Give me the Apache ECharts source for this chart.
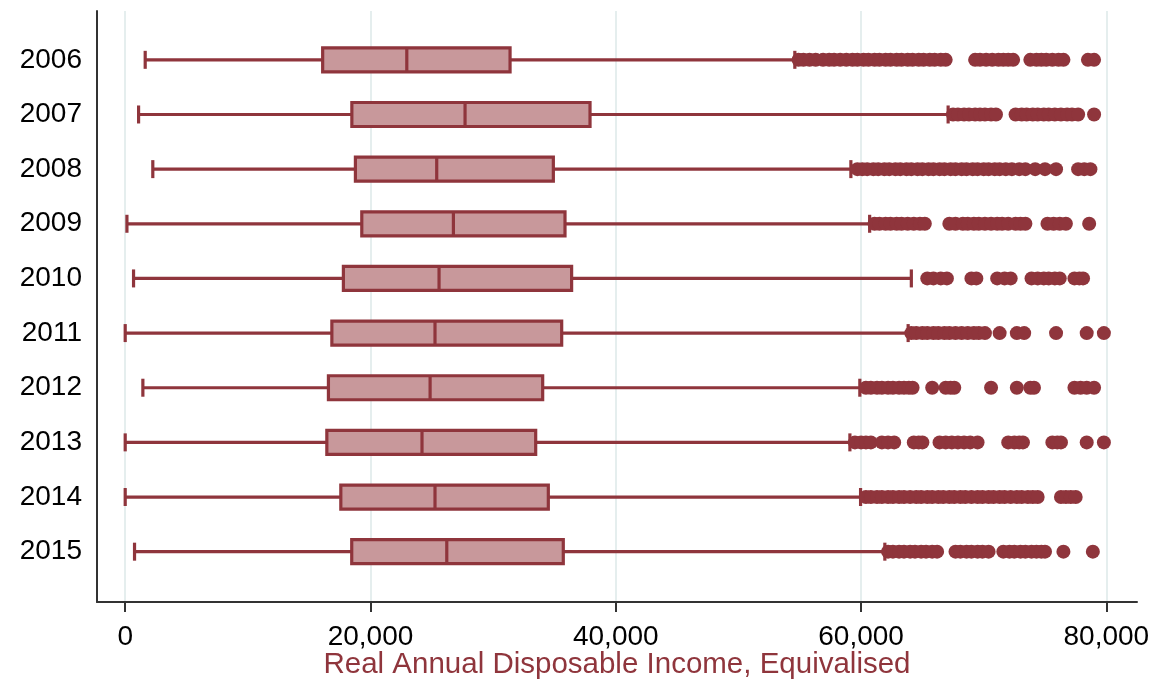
<!DOCTYPE html>
<html>
<head>
<meta charset="utf-8">
<script src="https://cdn.jsdelivr.net/npm/echarts@6/dist/echarts.min.js"></script>
<style>
html,body{margin:0;padding:0;background:#fff;}
#chart{width:1169px;height:682px;}
</style>
</head>
<body>
<div id="chart"></div>
<script>
const years = ['2006','2007','2008','2009','2010','2011','2012','2013','2014','2015'];
const lowerAdj = [1630, 1090, 2250, 140, 680, 0, 1440, 0, 0, 760];
const q1 = [16100, 18480, 18770, 19290, 17790, 16850, 16570, 16440, 17580, 18470];
const medians = [22960, 27710, 25400, 26760, 25590, 25260, 24860, 24200, 25260, 26220];
const q3 = [31380, 37900, 34910, 35860, 36400, 35590, 34040, 33470, 34500, 35720];
const upperAdj = [54600, 67100, 59170, 60700, 64100, 63840, 59900, 59090, 59960, 61940];
const xTicks = [0, 20000, 40000, 60000, 80000];

const outliers2006 = [54900,55300,55800,56300,56900,57400,57800,58300,58800,59300,59700,60200,60600,61100,61500,62000,62400,62900,63300,63800,64200,64700,65100,65600,66000,66500,66900,69300,69700,70200,70700,71200,71600,72000,72400,73800,74300,74700,75100,75600,76100,76500,78500,79000];
const outliers2007 = [67500,67900,68400,68800,69300,69700,70100,70600,71000,72600,73100,73500,74000,74400,74900,75300,75800,76300,76800,77200,77700,79000];
const outliers2008 = [59700,60100,60500,61000,61400,61900,62300,62800,63200,63700,64100,64600,65000,65500,65900,66400,66800,67300,67700,68200,68600,69100,69500,70000,70400,70900,71300,71800,72300,72900,73400,74200,75000,75900,77700,78200,78700];
const outliers2009 = [61100,61500,62000,62400,62900,63300,63800,64300,64800,65200,67200,67700,68300,68700,69200,69600,70100,70600,71100,71500,72000,72600,73000,73400,75200,75700,76200,76700,78600];
const outliers2010 = [65400,65900,66500,67000,69000,69400,71100,71700,72200,73900,74400,74900,75300,75800,76200,77400,77800,78100];
const outliers2011 = [64100,64500,65000,65400,65900,66300,66800,67200,67700,68200,68700,69200,69600,70100,71300,72700,73300,75900,78400,79800];
const outliers2012 = [60400,60800,61300,61700,62200,62600,63100,63500,63900,64200,65800,66900,67300,67600,70600,72700,73800,74100,77400,77900,78400,79000];
const outliers2013 = [59500,60000,60400,60800,61700,62200,62700,64300,64700,65000,66400,66900,67400,67900,68400,68900,69500,72000,72500,72900,73200,75600,76000,76300,78400,79800];
const outliers2014 = [60400,60800,61300,61700,62200,62600,63100,63500,64000,64500,64900,65400,65800,66300,66700,67200,67600,68100,68500,69000,69500,69900,70400,70800,71300,71700,72200,72700,73100,73600,74000,74400,76300,76700,77100,77500];
const outliers2015 = [62200,62600,63100,63500,64000,64400,64900,65300,65800,66200,67700,68100,68600,69000,69500,69900,70400,71600,72100,72500,73000,73400,73900,74300,74700,75000,76500,78900];
const outlierLists = [outliers2006, outliers2007, outliers2008, outliers2009, outliers2010, outliers2011, outliers2012, outliers2013, outliers2014, outliers2015];

const STROKE = '#8f353c';
const FILL = '#c8989b';
const FONT = 'Liberation Sans, Arial, sans-serif';

const boxData = years.map((y, i) => [i, lowerAdj[i], q1[i], medians[i], q3[i], upperAdj[i]]);
const outlierData = [];
outlierLists.forEach((list, i) => list.forEach(v => outlierData.push([v, i])));

function renderBox(params, api) {
  const cat = api.value(0);
  const pMin = api.coord([api.value(1), cat]);
  const pQ1 = api.coord([api.value(2), cat]);
  const pMed = api.coord([api.value(3), cat]);
  const pQ3 = api.coord([api.value(4), cat]);
  const pMax = api.coord([api.value(5), cat]);
  const y = pMin[1];
  const half = 12, capHalf = 9;
  const ls = {stroke: STROKE, lineWidth: 3.2, fill: null};
  return {
    type: 'group',
    children: [
      {type: 'line', shape: {x1: pMin[0], y1: y, x2: pQ1[0], y2: y}, style: ls},
      {type: 'line', shape: {x1: pQ3[0], y1: y, x2: pMax[0], y2: y}, style: ls},
      {type: 'line', shape: {x1: pMin[0], y1: y - capHalf, x2: pMin[0], y2: y + capHalf}, style: ls},
      {type: 'line', shape: {x1: pMax[0], y1: y - capHalf, x2: pMax[0], y2: y + capHalf}, style: ls},
      {type: 'rect', shape: {x: pQ1[0], y: y - half, width: pQ3[0] - pQ1[0], height: 2 * half},
        style: {fill: FILL, stroke: STROKE, lineWidth: 3.2}},
      {type: 'line', shape: {x1: pMed[0], y1: y - half, x2: pMed[0], y2: y + half}, style: ls}
    ]
  };
}

const chart = echarts.init(document.getElementById('chart'), null, {renderer: 'canvas'});
chart.setOption({
  animation: false,
  backgroundColor: '#ffffff',
  grid: [
    {left: 97, right: 32, top: 11, bottom: 80, outerBoundsMode: 'none', containLabel: false},
    {left: 97, right: 32, top: 32.5, bottom: 103, outerBoundsMode: 'none', containLabel: false}
  ],
  xAxis: [
    {
      type: 'value', gridIndex: 0, min: -2300, max: 82500,
      name: 'Real Annual Disposable Income, Equivalised',
      nameLocation: 'middle', nameGap: 48, nameMoveOverlap: false,
      nameTextStyle: {color: STROKE, fontSize: 29.5, fontFamily: FONT},
      axisLine: {show: true, onZero: false, lineStyle: {color: '#333', width: 2}},
      axisTick: {show: true, length: 10, lineStyle: {color: '#333', width: 2}, customValues: xTicks},
      axisLabel: {show: true, customValues: xTicks, margin: 21, color: '#000', fontSize: 28, fontFamily: FONT,
        formatter: v => Number(v).toLocaleString('en-US')},
      splitLine: {show: true, lineStyle: {color: '#e5eeee', width: 2}}
    },
    {
      type: 'value', gridIndex: 1, min: -2300, max: 82500, show: false,
      splitLine: {show: false}
    }
  ],
  yAxis: [
    {
      type: 'value', gridIndex: 0, min: 0, max: 1,
      axisLine: {show: true, onZero: false, lineStyle: {color: '#333', width: 2}},
      axisTick: {show: false}, axisLabel: {show: false}, splitLine: {show: false}
    },
    {
      type: 'category', gridIndex: 1, data: years, inverse: true,
      axisLine: {show: false}, axisTick: {show: false}, splitLine: {show: false},
      axisLabel: {color: '#000', fontSize: 28, fontFamily: FONT, margin: 15}
    }
  ],
  series: [
    {
      type: 'custom', xAxisIndex: 1, yAxisIndex: 1,
      renderItem: renderBox,
      encode: {x: [1, 2, 3, 4, 5], y: 0},
      data: boxData, z: 3
    },
    {
      type: 'scatter', xAxisIndex: 1, yAxisIndex: 1,
      symbol: 'circle', symbolSize: 14,
      itemStyle: {color: STROKE, opacity: 1},
      data: outlierData, z: 4
    }
  ]
});
</script>
</body>
</html>
